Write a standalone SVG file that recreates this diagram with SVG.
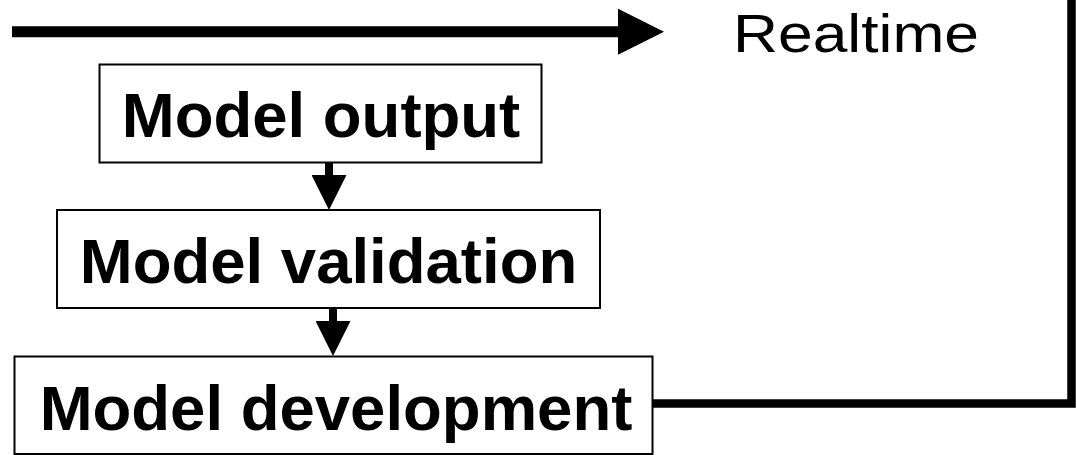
<svg xmlns="http://www.w3.org/2000/svg" width="1077" height="455" viewBox="0 0 1077 455">
  <style>
    .box { fill: #ffffff; stroke: #000000; stroke-width: 2; }
    .label { font-family: "Liberation Sans", Arial, sans-serif; font-weight: bold; font-size: 63.5px; fill: #000000; text-anchor: middle; }
    .plain { font-family: "Liberation Sans", Arial, sans-serif; font-size: 54px; fill: #000000; }
    .thick { fill: none; stroke: #000000; stroke-linejoin: miter; stroke-linecap: butt; }
  </style>
  <defs>
    <marker id="bigHead" markerUnits="userSpaceOnUse" markerWidth="46" markerHeight="46" refX="0" refY="23" orient="auto" viewBox="0 0 46 46">
      <path d="M0,0 L46,23 L0,46 Z" fill="#000000"/>
    </marker>
    <marker id="smallHead" markerUnits="userSpaceOnUse" markerWidth="35" markerHeight="35" refX="0" refY="17.5" orient="auto" viewBox="0 0 35 35">
      <path d="M0,0 L35,17.5 L0,35 Z" fill="#000000"/>
    </marker>
  </defs>
  <rect width="1077" height="455" fill="#ffffff"/>

  <g id="connectors">
    <line class="thick" x1="12" y1="31.7" x2="618" y2="31.7" stroke-width="11" marker-end="url(#bigHead)"/>
    <line class="thick" x1="329" y1="163" x2="329" y2="175" stroke-width="8" marker-end="url(#smallHead)"/>
    <line class="thick" x1="333" y1="309" x2="333" y2="321" stroke-width="8" marker-end="url(#smallHead)"/>
    <polyline class="thick" points="653,403.5 1071.5,403.5 1071.5,0" stroke-width="8.5"/>
  </g>

  <g id="realtime">
    <text class="plain" x="733" y="51.7" textLength="246" lengthAdjust="spacingAndGlyphs">Realtime</text>
  </g>

  <g id="model-output">
    <rect class="box" x="99.5" y="64.5" width="442" height="98"/>
    <text class="label" x="321" y="137.3">Model output</text>
  </g>

  <g id="model-validation">
    <rect class="box" x="57" y="210" width="543" height="98"/>
    <text class="label" x="328.5" y="283.3">Model validation</text>
  </g>

  <g id="model-development">
    <rect class="box" x="14.5" y="356.5" width="638" height="97.5"/>
    <text class="label" x="336" y="430">Model development</text>
  </g>
</svg>
